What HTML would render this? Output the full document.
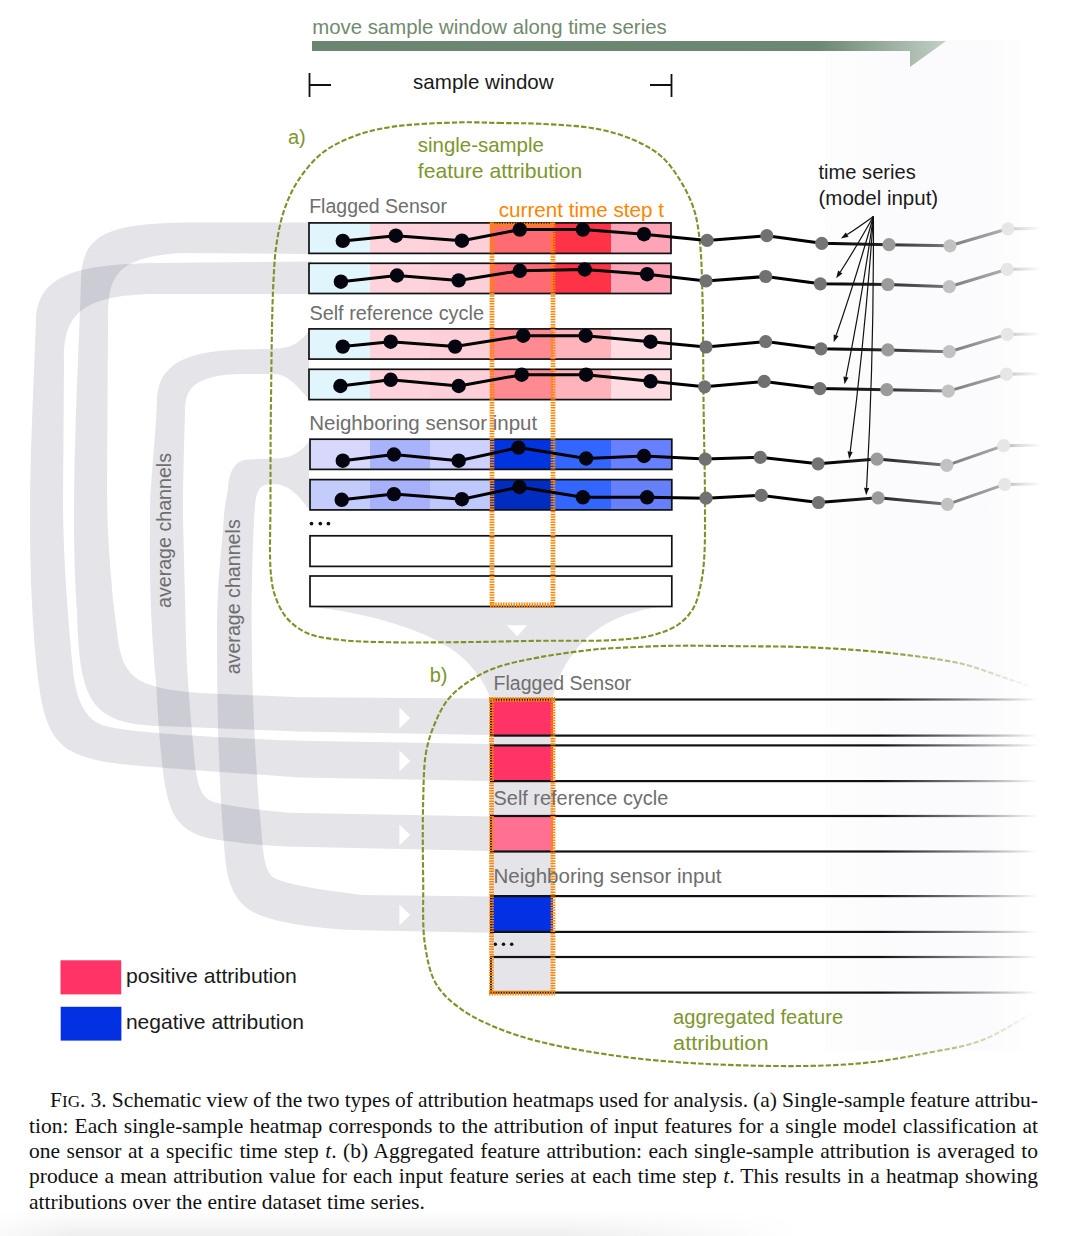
<!DOCTYPE html>
<html><head><meta charset="utf-8"><style>
html,body{margin:0;padding:0;background:#fff;}
body{width:1065px;height:1236px;position:relative;overflow:hidden;font-family:"Liberation Sans",sans-serif;}
.cap{position:absolute;left:29px;top:1087.6px;width:1009px;font-family:"Liberation Serif",serif;font-size:21.5px;line-height:25.3px;color:#111;}
.cap .l{text-align:justify;text-align-last:justify;white-space:nowrap;}
.cap .last{white-space:nowrap;}
.sc{font-size:0.8em;}
.shadow{position:absolute;left:0;top:1210px;width:810px;height:26px;background:linear-gradient(to bottom, rgba(0,0,0,0) 0%, rgba(0,0,0,0.03) 50%, rgba(0,0,0,0.065) 100%);-webkit-mask-image:linear-gradient(to right, rgba(0,0,0,0.3) 0, #000 70px, #000 560px, rgba(0,0,0,0) 800px);mask-image:linear-gradient(to right, rgba(0,0,0,0.3) 0, #000 70px, #000 560px, rgba(0,0,0,0) 800px);}
</style></head><body>
<svg width="1065" height="1075" viewBox="0 0 1065 1075" style="position:absolute;left:0;top:0">
<defs>
<linearGradient id="fadeOl" gradientUnits="userSpaceOnUse" x1="880" y1="0" x2="1036" y2="0"><stop offset="0" stop-color="#7a9428"/><stop offset="1" stop-color="#7a9428" stop-opacity="0"/></linearGradient>
<linearGradient id="fadeBk" gradientUnits="userSpaceOnUse" x1="880" y1="0" x2="1038" y2="0"><stop offset="0" stop-color="#111"/><stop offset="0.5" stop-color="#111" stop-opacity="0.55"/><stop offset="1" stop-color="#111" stop-opacity="0"/></linearGradient>
<linearGradient id="fadeTs" gradientUnits="userSpaceOnUse" x1="822" y1="0" x2="1040" y2="0"><stop offset="0" stop-color="#000"/><stop offset="0.3" stop-color="#2a2a2a"/><stop offset="0.58" stop-color="#7a7a7a"/><stop offset="0.84" stop-color="#b0b0b0"/><stop offset="0.9" stop-color="#dadada"/><stop offset="1" stop-color="#fdfdfd"/></linearGradient>
<linearGradient id="faint" gradientUnits="userSpaceOnUse" x1="825" y1="0" x2="1026" y2="0"><stop offset="0" stop-color="#fdfdfe"/><stop offset="0.4" stop-color="#fbfbfd"/><stop offset="0.8" stop-color="#fbfbfd"/><stop offset="1" stop-color="#fefeff"/></linearGradient>
<linearGradient id="arrowG" gradientUnits="userSpaceOnUse" x1="312" y1="0" x2="946" y2="0"><stop offset="0" stop-color="#6a8670"/><stop offset="0.8" stop-color="#6c8872"/><stop offset="1" stop-color="#c3cfc6"/></linearGradient>
</defs>
<rect x="825" y="40" width="201" height="1011" fill="url(#faint)"/>
<g fill="#15153a" fill-opacity="0.115">
<path d="M312,222.5 L200,222.5 C110,222.5 82,232 81,280 C79,350 74,430 74,520 C74,560 76,600 77,610 C79,700 90,724 160,726 L300,731.5 L490,735 L490,698.5 L300,697.3 L200,693 C140,688 124,680 118,640 L113,600 C110,560 107,540 107,480 L108,320 C108,275 116,258 180,253 L312,254 Z"/><path d="M312,261.5 L160,263 C75,264 38,275 36,320 C33,400 30,460 30,520 C30,600 36,690 46,718 C55,745 70,758 120,764 C160,768 250,774 300,777.5 L490,781 L490,744 L300,740.7 C220,738 130,733 105,726 C85,720 76,700 73,670 C69,630 63,560 63,500 L64,360 C64,320 75,296 150,294 L312,294 Z"/><path d="M309,331 C300,342 293,348 275,348.7 L241,349.6 C185,351 158,365 157,400 C155,450 150,480 150,520 C149,600 153,650 156,680 C158,720 161,765 166,790 C171,815 180,833 213,839 C240,843 260,845.5 288,846.5 L490,851 L490,816.5 L288,812.7 C250,809 222,805 212.7,801.5 C203,798 198,790 195,765 C191,720 187,680 186,640 C185,600 184,560 183,520 C183,470 185,420 185,410 C185,385 200,375 241,374.1 L275,374.1 C290,375 300,390 309,399.4 Z"/><path d="M309,441.7 C300,452 292,458.6 275,458.6 L248,459.4 C236,460 229,470 228,489 C226,500 224,510 223.7,520 C221,560 217,580 217,640 C217,720 220,800 224,843 C226,880 232,905 262,916 C285,924 320,929 362,930.3 L490,932.8 L490,896.6 L362,894.9 C320,890 285,884 274,878 C266,873 264,860 262,840 C261,825 260,815 259,807 C256,760 253,720 252,660 C251,610 252,560 254,520 C255,500 256,485 268,484.3 L275,484 C290,485 300,497 309,509.3 Z"/><path d="M315,607 L660,607 C620,612 595,628 580,645 C565,662 556,680 553,698 L553,993 L490,993 L490,698 C488,690 480,675 465,660 C440,635 380,615 315,607 Z"/></g>
<path d="M399.4,707.5 L410.2,718 L399.4,728.5 Z" fill="#fff"/>
<path d="M399.4,750.5 L410.2,761 L399.4,771.5 Z" fill="#fff"/>
<path d="M399.4,824.5 L410.2,835 L399.4,845.5 Z" fill="#fff"/>
<path d="M399.4,904.5 L410.2,915 L399.4,925.5 Z" fill="#fff"/>
<path d="M506.7,625.2 L527.4,625.2 L517.2,636.2 Z" fill="#fff"/>
<path d="M502.0,123.0 C488.0,122.8 475.7,122.0 460.0,122.4 C439.9,122.9 410.8,123.9 391.5,126.9 C377.0,129.2 365.7,131.8 353.9,136.3 C342.5,140.7 331.3,145.8 322.0,153.2 C312.5,160.7 304.0,171.5 297.6,181.4 C291.8,190.4 287.8,199.6 284.4,209.5 C280.9,219.6 278.7,230.3 276.9,241.5 C274.9,253.7 274.4,263.6 273.5,280.0 C271.9,308.9 271.5,361.8 271.0,400.0 C270.5,434.8 270.5,469.1 270.5,500.0 C270.5,526.8 269.1,557.3 271.0,575.0 C272.0,584.8 273.0,590.5 275.7,597.7 C278.4,604.9 281.8,612.4 287.0,618.3 C292.4,624.4 299.5,629.7 307.6,633.3 C316.7,637.3 327.8,638.4 339.5,639.9 C353.6,641.7 369.4,641.8 386.5,642.2 C407.2,642.7 430.9,642.4 455.0,642.2 C481.8,642.0 512.6,641.2 540.0,640.8 C565.8,640.5 594.3,641.4 615.0,640.0 C629.7,639.0 641.4,638.2 652.7,635.2 C662.5,632.6 671.9,629.1 679.0,624.0 C685.3,619.4 690.3,613.8 694.0,607.0 C698.1,599.6 699.8,589.5 701.5,580.8 C703.1,572.6 703.7,566.0 704.3,556.3 C705.2,542.1 705.0,524.3 705.0,503.8 C705.0,475.0 703.9,434.7 703.5,400.0 C703.1,365.0 703.3,323.8 702.4,294.6 C701.8,273.9 701.6,256.9 699.8,241.5 C698.4,229.4 697.2,219.6 694.0,209.5 C690.8,199.6 686.1,190.2 680.8,181.4 C675.5,172.7 669.6,163.8 662.0,157.0 C654.1,149.9 644.3,144.6 633.9,140.0 C622.6,135.0 610.2,131.5 596.3,128.8 C579.6,125.6 556.9,124.7 540.0,123.8 C526.1,123.0 514.7,123.3 502.0,123.0" fill="none" stroke="#7a9428" stroke-width="2.1" stroke-dasharray="5.4 2.1"/>
<path d="M1036.0,688.0 C1026.1,684.8 1017.0,681.8 1006.2,678.3 C993.4,674.1 979.3,668.1 964.4,664.4 C948.1,660.4 929.6,658.0 912.2,655.7 C894.8,653.4 878.0,651.8 860.0,650.4 C840.7,648.9 820.0,647.7 800.0,647.0 C780.0,646.3 760.7,646.4 740.0,646.2 C717.9,646.0 693.7,645.4 671.5,645.8 C650.4,646.2 623.1,647.6 610.0,648.3 C603.8,648.7 602.4,648.7 596.3,649.3 C584.1,650.6 559.0,653.6 541.5,656.9 C525.2,660.0 507.9,663.1 494.5,668.2 C483.6,672.3 474.4,677.5 466.3,683.2 C459.1,688.3 452.8,693.3 447.6,700.0 C442.1,707.0 438.0,715.9 434.4,724.5 C430.7,733.4 427.9,742.0 426.0,752.7 C423.6,766.3 423.7,782.2 423.2,800.0 C422.5,823.2 422.8,854.7 423.2,880.0 C423.5,902.7 422.1,926.1 425.0,944.8 C427.3,959.6 429.6,972.7 436.0,983.7 C442.1,994.1 450.7,1001.8 461.8,1009.6 C476.3,1019.7 495.7,1028.3 518.0,1035.5 C547.7,1045.2 588.2,1052.1 626.0,1057.1 C667.1,1062.5 714.7,1064.8 755.6,1065.7 C792.3,1066.5 828.8,1066.2 860.0,1063.4 C885.6,1061.1 908.1,1056.7 929.6,1052.5 C948.3,1048.9 964.7,1046.8 981.8,1040.3 C1000.2,1033.3 1017.9,1020.8 1036.0,1011.0" fill="none" stroke="url(#fadeOl)" stroke-width="2.1" stroke-dasharray="5.4 2.1"/>
<rect x="309" y="222.9" width="61.3" height="30.5" fill="#e1f5fc"/>
<rect x="370" y="222.9" width="60.3" height="30.5" fill="#fed3dc"/>
<rect x="430" y="222.9" width="60.3" height="30.5" fill="#fdd0d9"/>
<rect x="490" y="222.9" width="63.3" height="30.5" fill="#ff6b72"/>
<rect x="553" y="222.9" width="58.3" height="30.5" fill="#ff3348"/>
<rect x="611" y="222.9" width="60.3" height="30.5" fill="#ffa3b6"/>
<rect x="309" y="263.3" width="61.3" height="30.2" fill="#e1f5fc"/>
<rect x="370" y="263.3" width="60.3" height="30.2" fill="#fed3dc"/>
<rect x="430" y="263.3" width="60.3" height="30.2" fill="#fdd0d9"/>
<rect x="490" y="263.3" width="63.3" height="30.2" fill="#ff6b72"/>
<rect x="553" y="263.3" width="58.3" height="30.2" fill="#ff3348"/>
<rect x="611" y="263.3" width="60.3" height="30.2" fill="#ffa3b6"/>
<rect x="309" y="328.9" width="61.3" height="30.2" fill="#e1f5fc"/>
<rect x="370" y="328.9" width="60.3" height="30.2" fill="#fed3dc"/>
<rect x="430" y="328.9" width="60.3" height="30.2" fill="#fdd0d9"/>
<rect x="490" y="328.9" width="63.3" height="30.2" fill="#ff8a92"/>
<rect x="553" y="328.9" width="58.3" height="30.2" fill="#ffb4bc"/>
<rect x="611" y="328.9" width="60.3" height="30.2" fill="#ffdce2"/>
<rect x="309" y="369.3" width="61.3" height="30.3" fill="#e1f5fc"/>
<rect x="370" y="369.3" width="60.3" height="30.3" fill="#fed3dc"/>
<rect x="430" y="369.3" width="60.3" height="30.3" fill="#fdd0d9"/>
<rect x="490" y="369.3" width="63.3" height="30.3" fill="#ff8a92"/>
<rect x="553" y="369.3" width="58.3" height="30.3" fill="#ffb4bc"/>
<rect x="611" y="369.3" width="60.3" height="30.3" fill="#ffdce2"/>
<rect x="310" y="439.2" width="60.3" height="30.2" fill="#d8d8fc"/>
<rect x="370" y="439.2" width="60.3" height="30.2" fill="#a9b3fb"/>
<rect x="430" y="439.2" width="60.3" height="30.2" fill="#ccd2fd"/>
<rect x="490" y="439.2" width="63.3" height="30.2" fill="#0034e0"/>
<rect x="553" y="439.2" width="58.3" height="30.2" fill="#3366ff"/>
<rect x="611" y="439.2" width="61.1" height="30.2" fill="#6680ff"/>
<rect x="310" y="479.6" width="60.3" height="30.3" fill="#c4ccfb"/>
<rect x="370" y="479.6" width="60.3" height="30.3" fill="#a6b1fa"/>
<rect x="430" y="479.6" width="60.3" height="30.3" fill="#bfc8fc"/>
<rect x="490" y="479.6" width="63.3" height="30.3" fill="#002cc0"/>
<rect x="553" y="479.6" width="58.3" height="30.3" fill="#3366ff"/>
<rect x="611" y="479.6" width="61.1" height="30.3" fill="#6680fa"/>
<rect x="309" y="222.9" width="362.0" height="30.5" fill="none" stroke="#111" stroke-width="1.7"/>
<rect x="309" y="263.3" width="362.0" height="30.2" fill="none" stroke="#111" stroke-width="1.7"/>
<rect x="309" y="328.9" width="362.0" height="30.2" fill="none" stroke="#111" stroke-width="1.7"/>
<rect x="309" y="369.3" width="362.0" height="30.3" fill="none" stroke="#111" stroke-width="1.7"/>
<rect x="310" y="439.2" width="361.8" height="30.2" fill="none" stroke="#111" stroke-width="1.7"/>
<rect x="310" y="479.6" width="361.8" height="30.3" fill="none" stroke="#111" stroke-width="1.7"/>
<rect x="310" y="535.8" width="361.8" height="30.6" fill="#fff" stroke="#111" stroke-width="1.7"/>
<rect x="310" y="576.0" width="361.8" height="30.5" fill="#fff" stroke="#111" stroke-width="1.7"/>
<circle cx="311.5" cy="523.6" r="1.85" fill="#111"/>
<circle cx="320.3" cy="523.6" r="1.85" fill="#111"/>
<circle cx="328.4" cy="523.6" r="1.85" fill="#111"/>
<rect x="491" y="699.5" width="62" height="36.10000000000002" fill="#ff3366"/>
<rect x="491" y="745.4" width="62" height="35.700000000000045" fill="#ff3366"/>
<rect x="491" y="816" width="62" height="35.5" fill="#ff7093"/>
<rect x="491" y="896.1" width="62" height="35.799999999999955" fill="#0330e2"/>
<rect x="490" y="698.4" width="550" height="2.2" fill="url(#fadeBk)"/>
<rect x="490" y="734.5" width="550" height="2.2" fill="url(#fadeBk)"/>
<rect x="490" y="744.3" width="550" height="2.2" fill="url(#fadeBk)"/>
<rect x="490" y="780.0" width="550" height="2.2" fill="url(#fadeBk)"/>
<rect x="490" y="814.9" width="550" height="2.2" fill="url(#fadeBk)"/>
<rect x="490" y="850.4" width="550" height="2.2" fill="url(#fadeBk)"/>
<rect x="490" y="895.0" width="550" height="2.2" fill="url(#fadeBk)"/>
<rect x="490" y="930.8" width="550" height="2.2" fill="url(#fadeBk)"/>
<rect x="490" y="955.9" width="550" height="2.2" fill="url(#fadeBk)"/>
<rect x="490" y="991.5" width="550" height="2.2" fill="url(#fadeBk)"/>
<rect x="490" y="699.5" width="2" height="36.10000000000002" fill="#111"/>
<rect x="490" y="745.4" width="2" height="35.700000000000045" fill="#111"/>
<rect x="490" y="816" width="2" height="35.5" fill="#111"/>
<rect x="490" y="896.1" width="2" height="35.799999999999955" fill="#111"/>
<rect x="490" y="957" width="2" height="35.60000000000002" fill="#111"/>
<circle cx="495.3" cy="944.3" r="1.75" fill="#111"/>
<circle cx="503.5" cy="944.3" r="1.75" fill="#111"/>
<circle cx="511.7" cy="944.3" r="1.75" fill="#111"/>
<g fill="none" stroke="#ff8500" stroke-width="4.8" stroke-dasharray="1.5 1.1"><path d="M492,222.5 V606"/><path d="M553,222.5 V606"/><path d="M490,605 H555"/><path d="M490,224.8 H555"/><path d="M491.5,699 V993"/><path d="M553,699 V993"/><path d="M489,993 H555"/><path d="M489,699.5 H555"/></g>
<path d="M342.8,240.9 L395.8,235.7 L461.9,240.7 L519.8,229.6 L582.9,229.6 L644.0,234.2 L707.1,240.4 L766.8,235.7" fill="none" stroke="#000" stroke-width="3" stroke-linejoin="round"/>
<path d="M766.8,235.7 L821.7,243.3 L889.0,244.7 L950.0,245.8 L1007.9,228.8 L1040.0,228.3" fill="none" stroke="url(#fadeTs)" stroke-width="3" stroke-linejoin="round"/>
<circle cx="342.8" cy="240.9" r="7.2" fill="#050510"/>
<circle cx="395.8" cy="235.7" r="7.2" fill="#050510"/>
<circle cx="461.9" cy="240.7" r="7.2" fill="#050510"/>
<circle cx="519.8" cy="229.6" r="7.2" fill="#050510"/>
<circle cx="582.9" cy="229.6" r="7.2" fill="#050510"/>
<circle cx="644" cy="234.2" r="7.2" fill="#050510"/>
<circle cx="707.1" cy="240.4" r="6.6" fill="#717171"/>
<circle cx="766.8" cy="235.7" r="6.6" fill="#717171"/>
<circle cx="821.7" cy="243.3" r="6.6" fill="#747474"/>
<circle cx="889" cy="244.7" r="6.6" fill="#9b9b9b"/>
<circle cx="950" cy="245.8" r="6.6" fill="#c2c2c2"/>
<circle cx="1007.9" cy="228.8" r="6.6" fill="#e6e6e6"/>
<path d="M340.9,281.7 L397.0,275.5 L458.7,280.4 L519.8,270.8 L584.8,269.5 L647.1,274.2 L706.0,280.9 L765.7,276.5" fill="none" stroke="#000" stroke-width="3" stroke-linejoin="round"/>
<path d="M765.7,276.5 L820.3,283.8 L887.9,284.5 L949.3,286.7 L1007.2,269.3 L1040.0,268.8" fill="none" stroke="url(#fadeTs)" stroke-width="3" stroke-linejoin="round"/>
<circle cx="340.9" cy="281.7" r="7.2" fill="#050510"/>
<circle cx="397" cy="275.5" r="7.2" fill="#050510"/>
<circle cx="458.7" cy="280.4" r="7.2" fill="#050510"/>
<circle cx="519.8" cy="270.8" r="7.2" fill="#050510"/>
<circle cx="584.8" cy="269.5" r="7.2" fill="#050510"/>
<circle cx="647.1" cy="274.2" r="7.2" fill="#050510"/>
<circle cx="706" cy="280.9" r="6.6" fill="#717171"/>
<circle cx="765.7" cy="276.5" r="6.6" fill="#717171"/>
<circle cx="820.3" cy="283.8" r="6.6" fill="#747474"/>
<circle cx="887.9" cy="284.5" r="6.6" fill="#9b9b9b"/>
<circle cx="949.3" cy="286.7" r="6.6" fill="#c2c2c2"/>
<circle cx="1007.2" cy="269.3" r="6.6" fill="#e6e6e6"/>
<path d="M342.8,346.6 L390.7,341.7 L455.1,346.6 L523.2,335.7 L585.7,335.7 L650.5,341.7 L706.0,347.0 L765.7,341.6" fill="none" stroke="#000" stroke-width="3" stroke-linejoin="round"/>
<path d="M765.7,341.6 L821.0,348.8 L887.9,349.9 L949.3,351.7 L1007.2,334.4 L1040.0,333.9" fill="none" stroke="url(#fadeTs)" stroke-width="3" stroke-linejoin="round"/>
<circle cx="342.8" cy="346.6" r="7.2" fill="#050510"/>
<circle cx="390.7" cy="341.7" r="7.2" fill="#050510"/>
<circle cx="455.1" cy="346.6" r="7.2" fill="#050510"/>
<circle cx="523.2" cy="335.7" r="7.2" fill="#050510"/>
<circle cx="585.7" cy="335.7" r="7.2" fill="#050510"/>
<circle cx="650.5" cy="341.7" r="7.2" fill="#050510"/>
<circle cx="706" cy="347" r="6.6" fill="#717171"/>
<circle cx="765.7" cy="341.6" r="6.6" fill="#717171"/>
<circle cx="821" cy="348.8" r="6.6" fill="#747474"/>
<circle cx="887.9" cy="349.9" r="6.6" fill="#9b9b9b"/>
<circle cx="949.3" cy="351.7" r="6.6" fill="#c2c2c2"/>
<circle cx="1007.2" cy="334.4" r="6.6" fill="#e6e6e6"/>
<path d="M340.4,386.0 L390.7,379.8 L458.7,386.0 L521.7,374.7 L586.1,374.7 L650.5,381.3 L704.6,386.8 L764.2,381.4" fill="none" stroke="#000" stroke-width="3" stroke-linejoin="round"/>
<path d="M764.2,381.4 L819.9,388.6 L886.8,389.7 L948.3,391.1 L1006.5,374.2 L1040.0,373.7" fill="none" stroke="url(#fadeTs)" stroke-width="3" stroke-linejoin="round"/>
<circle cx="340.4" cy="386" r="7.2" fill="#050510"/>
<circle cx="390.7" cy="379.8" r="7.2" fill="#050510"/>
<circle cx="458.7" cy="386" r="7.2" fill="#050510"/>
<circle cx="521.7" cy="374.7" r="7.2" fill="#050510"/>
<circle cx="586.1" cy="374.7" r="7.2" fill="#050510"/>
<circle cx="650.5" cy="381.3" r="7.2" fill="#050510"/>
<circle cx="704.6" cy="386.8" r="6.6" fill="#717171"/>
<circle cx="764.2" cy="381.4" r="6.6" fill="#717171"/>
<circle cx="819.9" cy="388.6" r="6.6" fill="#747474"/>
<circle cx="886.8" cy="389.7" r="6.6" fill="#9b9b9b"/>
<circle cx="948.3" cy="391.1" r="6.6" fill="#c2c2c2"/>
<circle cx="1006.5" cy="374.2" r="6.6" fill="#e6e6e6"/>
<path d="M342.8,460.7 L393.9,454.5 L458.7,460.7 L518.5,447.6 L586.1,458.5 L644.0,456.0 L705.3,459.1 L760.3,457.3" fill="none" stroke="#000" stroke-width="3" stroke-linejoin="round"/>
<path d="M760.3,457.3 L818.1,463.8 L877.0,459.1 L946.8,465.3 L1003.6,445.7 L1040.0,445.2" fill="none" stroke="url(#fadeTs)" stroke-width="3" stroke-linejoin="round"/>
<circle cx="342.8" cy="460.7" r="7.2" fill="#050510"/>
<circle cx="393.9" cy="454.5" r="7.2" fill="#050510"/>
<circle cx="458.7" cy="460.7" r="7.2" fill="#050510"/>
<circle cx="518.5" cy="447.6" r="7.2" fill="#050510"/>
<circle cx="586.1" cy="458.5" r="7.2" fill="#050510"/>
<circle cx="644" cy="456" r="7.2" fill="#050510"/>
<circle cx="705.3" cy="459.1" r="6.6" fill="#717171"/>
<circle cx="760.3" cy="457.3" r="6.6" fill="#717171"/>
<circle cx="818.1" cy="463.8" r="6.6" fill="#747474"/>
<circle cx="877" cy="459.1" r="6.6" fill="#9b9b9b"/>
<circle cx="946.8" cy="465.3" r="6.6" fill="#c2c2c2"/>
<circle cx="1003.6" cy="445.7" r="6.6" fill="#e6e6e6"/>
<path d="M341.7,499.8 L393.9,494.1 L461.9,499.2 L519.4,487.0 L582.9,497.3 L647.1,497.3 L706.0,498.2 L761.3,495.3" fill="none" stroke="#000" stroke-width="3" stroke-linejoin="round"/>
<path d="M761.3,495.3 L818.5,502.5 L878.1,497.8 L947.5,504.3 L1004.7,484.4 L1040.0,483.9" fill="none" stroke="url(#fadeTs)" stroke-width="3" stroke-linejoin="round"/>
<circle cx="341.7" cy="499.8" r="7.2" fill="#050510"/>
<circle cx="393.9" cy="494.1" r="7.2" fill="#050510"/>
<circle cx="461.9" cy="499.2" r="7.2" fill="#050510"/>
<circle cx="519.4" cy="487" r="7.2" fill="#050510"/>
<circle cx="582.9" cy="497.3" r="7.2" fill="#050510"/>
<circle cx="647.1" cy="497.3" r="7.2" fill="#050510"/>
<circle cx="706" cy="498.2" r="6.6" fill="#717171"/>
<circle cx="761.3" cy="495.3" r="6.6" fill="#717171"/>
<circle cx="818.5" cy="502.5" r="6.6" fill="#747474"/>
<circle cx="878.1" cy="497.8" r="6.6" fill="#9b9b9b"/>
<circle cx="947.5" cy="504.3" r="6.6" fill="#c2c2c2"/>
<circle cx="1004.7" cy="484.4" r="6.6" fill="#e6e6e6"/>
<path d="M873.4,216.5 Q857.5,228.0 847.2,234.6" fill="none" stroke="#111" stroke-width="1.2"/>
<path d="M840.9,238.6 L845.8,232.4 L848.6,236.8 Z" fill="#111"/>
<path d="M873.4,216.5 Q855.7,248.0 840.3,272.0" fill="none" stroke="#111" stroke-width="1.2"/>
<path d="M836.2,278.3 L838.1,270.6 L842.4,273.4 Z" fill="#111"/>
<path d="M873.4,216.5 Q855.4,280.0 836.2,335.2" fill="none" stroke="#111" stroke-width="1.2"/>
<path d="M833.7,342.3 L833.7,334.4 L838.6,336.1 Z" fill="#111"/>
<path d="M873.4,216.5 Q861.5,300.8 846.0,377.0" fill="none" stroke="#111" stroke-width="1.2"/>
<path d="M844.5,384.3 L843.4,376.4 L848.5,377.5 Z" fill="#111"/>
<path d="M873.4,216.5 Q864.9,338.2 850.2,451.7" fill="none" stroke="#111" stroke-width="1.2"/>
<path d="M849.2,459.1 L847.6,451.3 L852.7,452.0 Z" fill="#111"/>
<path d="M873.4,216.5 Q874.0,356.0 866.6,487.8" fill="none" stroke="#111" stroke-width="1.2"/>
<path d="M866.2,495.3 L864.0,487.7 L869.2,488.0 Z" fill="#111"/>
<path d="M312,41 L946,41 L910,67 L910,51 L312,51 Z" fill="url(#arrowG)"/>
<path d="M309.5,73 V97 M309.5,85 H331" stroke="#111" stroke-width="1.8" fill="none"/>
<path d="M671.5,74 V97 M650,85 H671.5" stroke="#111" stroke-width="1.8" fill="none"/>
<rect x="60.5" y="960.3" width="60.7" height="34.1" fill="#ff3366"/>
<rect x="60.7" y="1006.8" width="60.7" height="33.8" fill="#0330e2"/>
<g font-family="Liberation Sans, sans-serif"><text x="312.2" y="33.5" fill="#718a6f" font-size="20.4" textLength="354.5" lengthAdjust="spacingAndGlyphs">move sample window along time series</text><text x="413.1" y="89.4" fill="#1a1a1a" font-size="20.2" textLength="140.5" lengthAdjust="spacingAndGlyphs">sample window</text><text x="288" y="143.8" fill="#7d962c" font-size="20">a)</text><text x="417.8" y="152.3" fill="#7d962c" font-size="20.2" textLength="126" lengthAdjust="spacingAndGlyphs">single-sample</text><text x="417.8" y="178.2" fill="#7d962c" font-size="20.2" textLength="164.4" lengthAdjust="spacingAndGlyphs">feature attribution</text><text x="309.2" y="213.3" fill="#6e6e6e" font-size="19.6" textLength="137.7" lengthAdjust="spacingAndGlyphs">Flagged Sensor</text><text x="498.7" y="217" fill="#ff8500" font-size="20.2" textLength="165.3" lengthAdjust="spacingAndGlyphs">current time step t</text><text x="309.4" y="319.7" fill="#6e6e6e" font-size="19.6" textLength="174.6" lengthAdjust="spacingAndGlyphs">Self reference cycle</text><text x="309.2" y="429.5" fill="#6e6e6e" font-size="19.6" textLength="228" lengthAdjust="spacingAndGlyphs">Neighboring sensor input</text><text x="818.5" y="178.7" fill="#1a1a1a" font-size="20" textLength="97.3" lengthAdjust="spacingAndGlyphs">time series</text><text x="818.5" y="205" fill="#1a1a1a" font-size="20" textLength="119.7" lengthAdjust="spacingAndGlyphs">(model input)</text><text x="429.7" y="682.3" fill="#7d962c" font-size="20">b)</text><text x="493.6" y="689.8" fill="#6e6e6e" font-size="19.6" textLength="137.7" lengthAdjust="spacingAndGlyphs">Flagged Sensor</text><text x="493.6" y="805.4" fill="#6e6e6e" font-size="19.6" textLength="174.6" lengthAdjust="spacingAndGlyphs">Self reference cycle</text><text x="493.5" y="882.9" fill="#6e6e6e" font-size="19.6" textLength="228" lengthAdjust="spacingAndGlyphs">Neighboring sensor input</text><text x="673.1" y="1023.5" fill="#7d962c" font-size="20" textLength="170" lengthAdjust="spacingAndGlyphs">aggregated feature</text><text x="673.1" y="1049.8" fill="#7d962c" font-size="20" textLength="95.4" lengthAdjust="spacingAndGlyphs">attribution</text><text x="125.9" y="983.1" fill="#1a1a1a" font-size="20.4" textLength="171" lengthAdjust="spacingAndGlyphs">positive attribution</text><text x="125.9" y="1028.7" fill="#1a1a1a" font-size="20.4" textLength="178" lengthAdjust="spacingAndGlyphs">negative attribution</text><text transform="translate(171.4,608) rotate(-90)" fill="#6e6e6e" font-size="19.6" textLength="155" lengthAdjust="spacingAndGlyphs">average channels</text><text transform="translate(239.5,674.3) rotate(-90)" fill="#6e6e6e" font-size="19.6" textLength="155" lengthAdjust="spacingAndGlyphs">average channels</text></g>
</svg>
<div class="shadow"></div>
<div class="cap">
<div class="l" style="padding-left:21px;word-spacing:-0.5px">F<span class="sc">IG</span>. 3. Schematic view of the two types of attribution heatmaps used for analysis. (a) Single-sample feature attribu-</div>
<div class="l">tion: Each single-sample heatmap corresponds to the attribution of input features for a single model classification at</div>
<div class="l">one sensor at a specific time step <i>t</i>. (b) Aggregated feature attribution: each single-sample attribution is averaged to</div>
<div class="l">produce a mean attribution value for each input feature series at each time step <i>t</i>. This results in a heatmap showing</div>
<div class="last">attributions over the entire dataset time series.</div>
</div>
</body></html>
